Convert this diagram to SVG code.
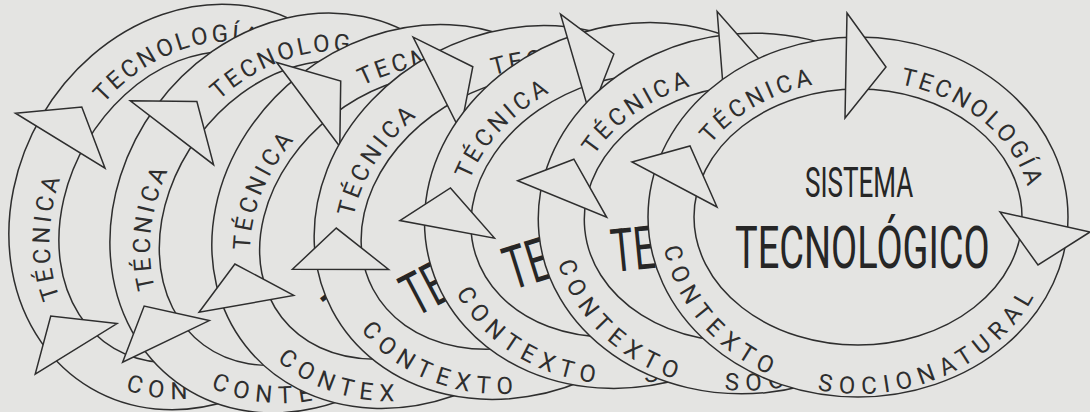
<svg xmlns="http://www.w3.org/2000/svg" xmlns:xlink="http://www.w3.org/1999/xlink" width="1090" height="412" viewBox="0 0 1090 412">
<style>
.bg{fill:#e4e4e2}
.ring{fill:#e4e4e2;stroke:#2e2e2e;stroke-width:1.5}
.inner{fill:none;stroke:#2e2e2e;stroke-width:1.5}
.arrow{fill:#e4e4e2;stroke:#2e2e2e;stroke-width:1.5;stroke-linejoin:miter}
.lbl{font-family:Roboto,'Liberation Sans',sans-serif;font-size:24px;fill:#2e2e2e;letter-spacing:3.7px}
.lbl2{letter-spacing:3px}
.ctx{letter-spacing:7px}
.big{font-family:Roboto,'Liberation Sans',sans-serif;fill:#262626}
</style>
<defs>
<path id="pTec" d="M -147.6 -72.6 A 174 137 0 0 1 87 -118.6"/>
<path id="pTecno" d="M 42.1 -132.9 A 174 137 0 0 1 150.7 68.5"/>
<path id="pCtx" d="M -194 30.7 A 197 177 0 0 0 194 30.7"/>
</defs>
<rect class="bg" x="0" y="0" width="1090" height="412"/>

<g id="loop1" transform="translate(197,207) rotate(-59.6)">
<ellipse class="ring" rx="210" ry="180"/>
<ellipse class="inner" rx="164" ry="128"/>
<polygon class="arrow" points="-226,-55 -168,-71 -141,-10"/>
<polygon class="arrow" points="-11,-204 28,-150 -13,-99"/>
<text class="lbl"><textPath xlink:href="#pTec">TÉCNICA</textPath></text>
<text class="lbl lbl2"><textPath xlink:href="#pTecno">TECNOLOGÍA</textPath></text>
<text class="lbl ctx"><textPath xlink:href="#pCtx">CON</textPath></text>
</g>

<g id="loop2" transform="translate(301,213) rotate(-53.6)">
<ellipse class="ring" rx="210" ry="180"/>
<ellipse class="inner" rx="164" ry="128"/>
<polygon class="arrow" points="-226,-55 -168,-71 -141,-10"/>
<polygon class="arrow" points="-11,-204 28,-150 -13,-99"/>
<text class="lbl"><textPath xlink:href="#pTec">TÉCNICA</textPath></text>
<text class="lbl lbl2"><textPath xlink:href="#pTecno">TECNOLOG</textPath></text>
<text class="lbl ctx"><textPath xlink:href="#pCtx">CONTE</textPath></text>
</g>

<g id="loop3" transform="translate(411,216.5) rotate(-38)">
<ellipse class="ring" rx="210" ry="180"/>
<ellipse class="inner" rx="164" ry="128"/>
<text class="big" font-size="60" transform="translate(-123,51) scale(0.633,1)">T</text>
<polygon class="arrow" points="-226,-55 -168,-71 -141,-10"/>
<polygon class="arrow" points="-11,-204 28,-150 -13,-99"/>
<text class="lbl"><textPath xlink:href="#pTec">TÉCNICA</textPath></text>
<text class="lbl lbl2"><textPath xlink:href="#pTecno">TECN</textPath></text>
<text class="lbl ctx"><textPath xlink:href="#pCtx">CONTEX</textPath></text>
</g>

<g id="loop4" transform="translate(518,212.5) rotate(-27.8)">
<ellipse class="ring" rx="210" ry="180"/>
<ellipse class="inner" rx="164" ry="128"/>
<text class="big" font-size="60" transform="translate(-140,45) scale(0.633,1)">TE</text>
<polygon class="arrow" points="-226,-55 -168,-71 -141,-10"/>
<polygon class="arrow" points="-11,-204 28,-150 -13,-99"/>
<text class="lbl"><textPath xlink:href="#pTec">TÉCNICA</textPath></text>
<text class="lbl lbl2"><textPath xlink:href="#pTecno">TEC</textPath></text>
<text class="lbl ctx"><textPath xlink:href="#pCtx">CONTEXTO</textPath></text>
</g>

<g id="loop5" transform="translate(632,205.5) rotate(-17.4)">
<ellipse class="ring" rx="210" ry="180"/>
<ellipse class="inner" rx="164" ry="128"/>
<text class="big" font-size="60" transform="translate(-140,45) scale(0.633,1)">TE</text>
<polygon class="arrow" points="-226,-55 -168,-71 -141,-10"/>
<polygon class="arrow" points="-11,-204 28,-150 -13,-99"/>
<text class="lbl"><textPath xlink:href="#pTec">TÉCNICA</textPath></text>
<text class="lbl ctx"><textPath xlink:href="#pCtx">CONTEXTO</textPath></text>
<text class="lbl ctx"><textPath xlink:href="#pCtx" startOffset="222">S</textPath></text>
</g>

<g id="loop6" transform="translate(748,213.5) rotate(-5.6)">
<ellipse class="ring" rx="210" ry="180"/>
<ellipse class="inner" rx="164" ry="128"/>
<text class="big" font-size="60" transform="translate(-140,45) scale(0.633,1)">TE</text>
<polygon class="arrow" points="-226,-55 -168,-71 -141,-10"/>
<polygon class="arrow" points="-11,-204 28,-150 -13,-99"/>
<text class="lbl"><textPath xlink:href="#pTec">TÉCNICA</textPath></text>
<text class="lbl ctx"><textPath xlink:href="#pCtx">CONTEXTO</textPath></text>
<text class="lbl ctx"><textPath xlink:href="#pCtx" startOffset="222">SOC</textPath></text>
</g>

<g id="loop7" transform="translate(858,217)">
<ellipse class="ring" rx="210" ry="180"/>
<ellipse class="inner" rx="164" ry="128"/>
<text class="big" font-size="42" transform="translate(-53,-20) scale(0.62,1)">SISTEMA</text>
<text class="big" font-size="60" transform="translate(-123,51) scale(0.633,1)">TECNOLÓGICO</text>
<g id="loop7-arrows">
<polygon class="arrow" points="-226,-55 -168,-71 -141,-10"/>
<polygon class="arrow" points="-11,-204 28,-150 -13,-99"/>
<polygon class="arrow" points="142,-5 232,15 180,48"/>
</g>
<text class="lbl"><textPath xlink:href="#pTec">TÉCNICA</textPath></text>
<text class="lbl lbl2"><textPath xlink:href="#pTecno">TECNOLOGÍA</textPath></text>
<text class="lbl ctx"><textPath xlink:href="#pCtx">CONTEXTO</textPath></text>
<text class="lbl ctx"><textPath xlink:href="#pCtx" startOffset="222">SOCIONATURAL</textPath></text>
</g>
</svg>
